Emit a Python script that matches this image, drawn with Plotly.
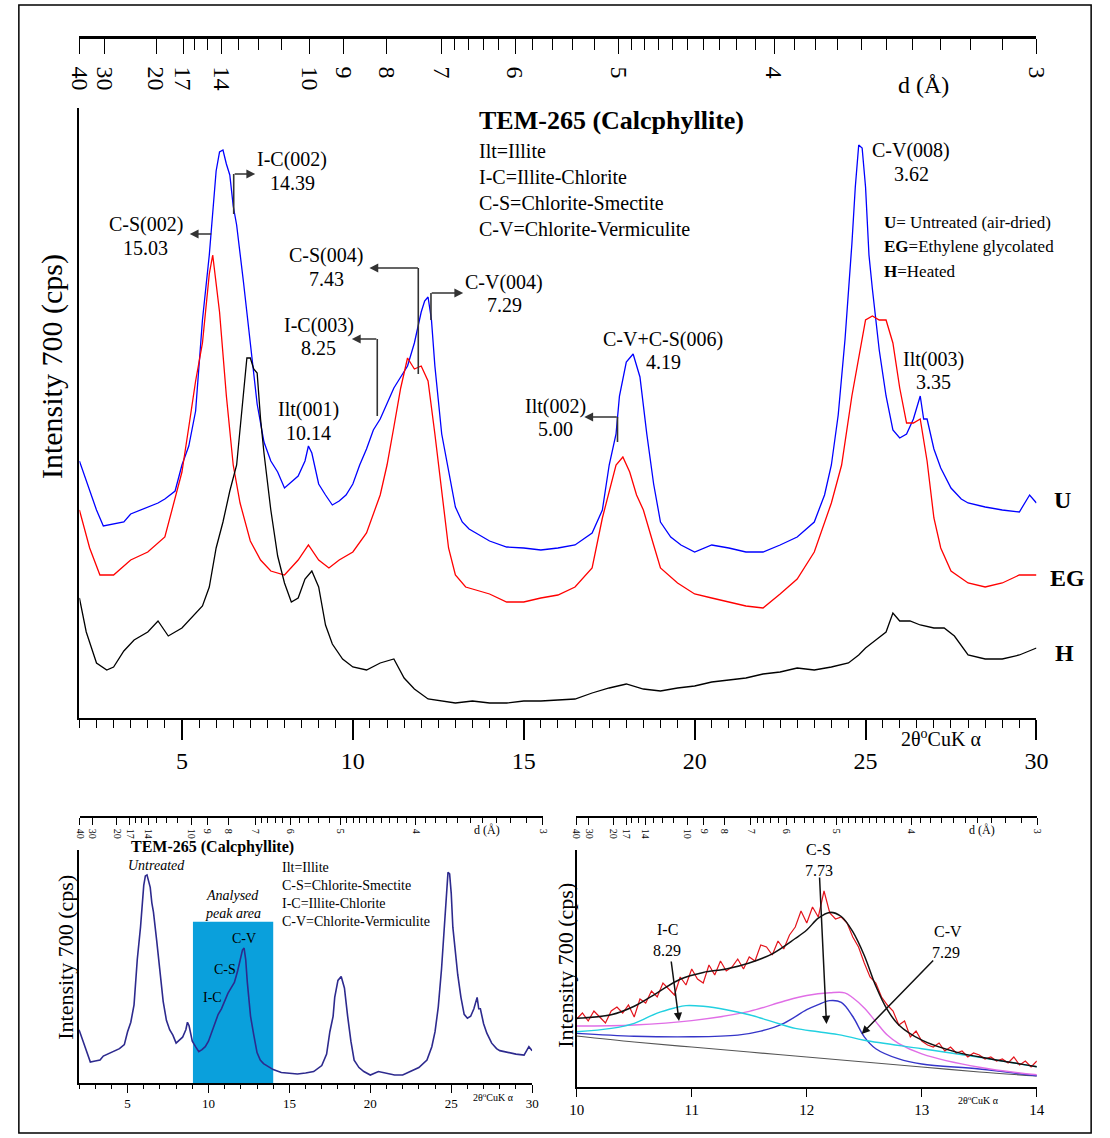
import math
import plotly.graph_objects as go

# ---------------- data ----------------
# Main panel, 2-theta (deg) vs intensity (arbitrary, stacked)
two_theta_U = [2.0, 2.2, 2.5, 2.7, 3.0, 3.3, 3.5, 4.0, 4.3, 4.5, 4.8, 5.0, 5.2, 5.4, 5.6, 5.8, 6.0, 6.1, 6.2, 6.3,
               6.4, 6.5, 6.6, 6.8, 7.0, 7.2, 7.4, 7.6, 7.8, 8.0, 8.2, 8.4, 8.6, 8.7, 8.8, 9.0, 9.2, 9.4, 9.6, 9.8,
               10.0, 10.2, 10.4, 10.6, 10.8, 11.0, 11.2, 11.4, 11.6, 11.8, 12.0, 12.1, 12.2, 12.3, 12.4, 12.6,
               12.8, 13.0, 13.2, 13.4, 13.6, 13.8, 14.0, 14.5, 15.0, 15.5, 16.0, 16.5, 17.0, 17.3, 17.5, 17.7,
               17.8, 18.0, 18.2, 18.4, 18.6, 18.8, 19.0, 19.3, 19.6, 20.0, 20.5, 21.0, 21.5, 22.0, 22.5, 23.0,
               23.5, 23.8, 24.0, 24.2, 24.4, 24.6, 24.7, 24.8, 24.9, 25.0, 25.1, 25.2, 25.4, 25.6, 25.8, 26.0,
               26.2, 26.4, 26.6, 26.7, 26.8, 27.0, 27.2, 27.5, 27.8, 28.0, 28.5, 29.0, 29.5, 29.8, 30.0]
intensity_U = [257, 238, 208, 192, 194, 196, 204, 211, 215, 219, 227, 253, 272, 307, 398, 463, 547, 566, 568, 554,
               543, 512, 493, 436, 375, 314, 276, 257, 246, 230, 236, 242, 257, 272, 265, 234, 223, 213, 217, 223,
               234, 253, 269, 288, 299, 314, 330, 341, 352, 375, 406, 417, 421, 398, 352, 284,
               246, 211, 196, 189, 185, 181, 177, 171, 170, 168, 170, 173, 185, 208, 253, 284,
               322, 356, 364, 341, 284, 234, 196, 181, 173, 166, 173, 170, 166, 166, 173, 181,
               196, 223, 253, 303, 379, 474, 531, 573, 570, 531, 463, 429, 368, 322, 288, 280,
               284, 299, 322, 299, 299, 269, 250, 230, 219, 215, 211, 208, 206, 223, 215]

two_theta_EG = [2.0, 2.3, 2.6, 3.0, 3.5, 4.0, 4.5, 5.0, 5.2, 5.4, 5.6, 5.8, 5.9, 6.0, 6.1, 6.3, 6.5, 6.7, 7.0, 7.3,
                7.6, 8.0, 8.4, 8.7, 9.0, 9.3, 9.6, 10.0, 10.4, 10.8, 11.0, 11.2, 11.4, 11.6, 11.8, 12.0, 12.2,
                12.4, 12.6, 12.8, 13.0, 13.3, 13.6, 14.0, 14.5, 15.0, 15.5, 16.0, 16.5, 17.0, 17.3, 17.5, 17.7,
                17.9, 18.1, 18.3, 18.5, 18.8, 19.0, 19.5, 20.0, 20.5, 21.0, 21.5, 22.0, 22.5, 23.0, 23.5, 24.0,
                24.3, 24.6, 24.8, 25.0, 25.2, 25.4, 25.6, 25.8, 26.0, 26.2, 26.4, 26.6, 26.8, 27.0, 27.2, 27.5,
                28.0, 28.5, 29.0, 29.5, 30.0]
intensity_EG = [208, 170, 143, 143, 158, 166, 181, 246, 291, 337, 375, 444, 463, 436, 406, 322, 253, 215, 177, 158,
                147, 143, 158, 173, 158, 150, 158, 166, 185, 223, 253, 291, 330, 360, 349, 352, 337,
                284, 227, 170, 143, 131, 128, 124, 116, 116, 120, 123, 131, 150, 200, 227, 253,
                261, 246, 223, 208, 173, 150, 135, 124, 120, 116, 112, 110, 124, 139, 166, 215,
                253, 322, 360, 398, 402, 398, 398, 375, 330, 295, 295, 299, 257, 200, 170, 147,
                135, 131, 135, 143, 143]

two_theta_H = [2.0, 2.2, 2.5, 2.8, 3.0, 3.3, 3.6, 4.0, 4.3, 4.6, 5.0, 5.3, 5.6, 5.8, 6.0, 6.2, 6.4, 6.6, 6.8, 6.9,
               7.0, 7.1, 7.2, 7.3, 7.4, 7.6, 7.8, 8.0, 8.2, 8.4, 8.6, 8.8, 9.0, 9.2, 9.4, 9.7, 10.0, 10.4, 10.8,
               11.2, 11.5, 11.8, 12.2, 12.6, 13.0, 13.5, 14.0, 14.5, 15.0, 15.5, 16.0, 16.5, 17.0, 17.5, 18.0,
               18.5, 19.0, 19.5, 20.0, 20.5, 21.0, 21.5, 22.0, 22.5, 23.0, 23.5, 24.0, 24.5, 24.8, 25.0, 25.3,
               25.6, 25.8, 26.0, 26.3, 26.6, 27.0, 27.3, 27.6, 28.0, 28.5, 29.0, 29.5, 30.0]
intensity_H = [120, 86, 55, 48, 51, 67, 78, 86, 97, 82, 90, 101, 112, 131, 170, 196, 227, 253, 322, 360,
               360, 349, 345, 299, 265, 208, 162, 135, 116, 120, 139, 147, 131, 93, 74, 59, 51, 48, 55,
               59, 40, 29, 19, 17, 15, 17, 15, 15, 17, 17, 18, 19, 25, 30, 34,
               29, 27, 30, 32, 36, 38, 40, 44, 46, 50, 48, 51, 55, 63, 70, 78,
               86, 105, 97, 97, 93, 90, 90, 82, 63, 59, 59, 63, 70]

# Top d-spacing axis labels (Angstrom)
d_major = [40, 30, 20, 17, 14, 10, 9, 8, 7, 6, 5, 4, 3]
d_minor = [16, 15, 13, 12, 11, 6.8, 6.6, 6.4, 6.2, 5.8, 5.6, 5.4, 5.2,
           4.9, 4.8, 4.7, 4.6, 4.5, 4.4, 4.3, 4.2, 4.1,
           3.9, 3.8, 3.7, 3.6, 3.5, 3.4, 3.3, 3.2, 3.1]

# Bottom-right panel: measured profile 10-14 deg (step 0.05)
scan_step = 0.05
scan_counts = [68, 74, 66, 76, 70, 64, 76, 80, 74, 82, 70, 88, 84, 96, 90, 104, 98, 92, 110, 102,
               118, 108, 104, 122, 112, 126, 116, 120, 128, 118, 130, 126, 142, 140, 132, 146, 138, 152, 160, 176,
               164, 180, 170, 196, 174, 168, 170, 164, 150, 140, 124, 110, 104, 90, 82, 76, 62, 66, 50, 56,
               46, 42, 40, 44, 36, 40, 34, 36, 30, 34, 32, 28, 30, 26, 28, 24, 30, 22, 26, 20, 26]
scan_x = [round(10 + scan_step * i, 2) for i in range(len(scan_counts))]

fit_x = [10, 10.3, 10.5, 10.7, 10.9, 11.1, 11.3, 11.5, 11.7, 11.9, 12, 12.1, 12.2, 12.3, 12.4, 12.5, 12.6,
         12.7, 12.8, 13, 13.3, 13.6, 14]
fit_y = [68.8, 72.2, 80.7, 94.2, 107.8, 114.6, 118, 124, 133.2, 148.5, 157, 168.8, 174.6, 170.5, 155.3,
         131.5, 101, 77.3, 62, 46.8, 34.9, 28.1, 20.3]
ic_x = [10, 10.3, 10.5, 10.7, 10.85, 10.95, 11.1, 11.3, 11.5, 11.7, 11.9, 12.1, 12.3, 12.5, 13, 13.5, 14]
ic_y = [55.3, 58.6, 63.7, 73.9, 79, 81.4, 80.7, 77.3, 72.2, 65.4, 58.6, 55.3, 51.9, 46.8, 38.3, 29.8, 20.3]
cs_x = [10, 10.5, 11, 11.5, 11.8, 12, 12.2, 12.33, 12.4, 12.5, 12.6, 12.7, 12.8, 13, 13.5, 14]
cs_y = [61, 62, 66.4, 75.6, 85.8, 91.5, 94.2, 94.2, 89.2, 79, 65.4, 51.9, 43.4, 33.2, 19.7, 12.2]
cv_x = [10, 10.5, 11, 11.4, 11.6, 11.8, 12, 12.1, 12.2, 12.3, 12.4, 12.5, 12.6, 12.8, 13, 13.5, 14]
cv_y = [53.6, 50.8, 50.2, 51.9, 55.9, 63.7, 77.3, 82.4, 86.4, 84.7, 70.5, 50.2, 38.3, 28.1, 23, 18, 11.2]
bg_x = [10, 10.5, 11, 11.5, 12, 12.5, 13, 13.5, 14]
bg_y = [51, 45, 40, 35, 30, 25, 20, 15, 11]

# ---------------- helpers ----------------
W, H = 1110, 1138
FONT = "Liberation Serif, Times New Roman, serif"


def X(p):
    return p / W


def Y(p):
    return 1 - p / H


LAM = 1.5406


def bragg(d):
    return 2 * math.degrees(math.asin(LAM / (2 * d)))


T40, T3 = bragg(40), bragg(3)


def d_pos(d):
    # d-scale drawn stretched over the 2-30 deg width
    return 2 + (bragg(d) - T40) * 28 / (T3 - T40)


major_vals = [d_pos(d) for d in d_major]
major_text = [str(d) for d in d_major]
minor_vals = [d_pos(d) for d in d_minor]


def d_axis(x0, x1, ypix, fsize, tlen, mlen, lw, standoff):
    return dict(domain=[X(x0), X(x1)], anchor="free", position=Y(ypix), side="bottom",
                range=[2, 30], tickmode="array", tickvals=major_vals, ticktext=major_text,
                ticks="outside", ticklen=tlen, tickwidth=1.3, tickcolor="black",
                minor=dict(tickvals=minor_vals, ticks="outside", ticklen=mlen, tickwidth=1.2,
                           tickcolor="black"),
                tickangle=90, tickfont=dict(size=fsize, family=FONT, color="black"),
                showline=True, linecolor="black", linewidth=lw, showgrid=False, zeroline=False,
                ticklabelstandoff=standoff)


fig = go.Figure()

# main panel traces
fig.add_trace(go.Scatter(x=two_theta_U, y=intensity_U, mode="lines", line=dict(color="#0000ff", width=1.3),
                         xaxis="x", yaxis="y"))
fig.add_trace(go.Scatter(x=two_theta_EG, y=intensity_EG, mode="lines", line=dict(color="#ff0000", width=1.3),
                         xaxis="x", yaxis="y"))
fig.add_trace(go.Scatter(x=two_theta_H, y=intensity_H, mode="lines", line=dict(color="#000000", width=1.3),
                         xaxis="x", yaxis="y"))

# bottom-left: untreated pattern again
fig.add_trace(go.Scatter(x=two_theta_U, y=intensity_U, mode="lines", line=dict(color="#2d2a8e", width=1.6),
                         xaxis="x3", yaxis="y3"))

# bottom-right: profile fit
fig.add_trace(go.Scatter(x=bg_x, y=bg_y, mode="lines", line=dict(color="#555555", width=1.2, shape="spline"),
                         xaxis="x5", yaxis="y5"))
fig.add_trace(go.Scatter(x=cv_x, y=cv_y, mode="lines", line=dict(color="#3535c8", width=1.4, shape="spline"),
                         xaxis="x5", yaxis="y5"))
fig.add_trace(go.Scatter(x=cs_x, y=cs_y, mode="lines", line=dict(color="#e06ee6", width=1.4, shape="spline"),
                         xaxis="x5", yaxis="y5"))
fig.add_trace(go.Scatter(x=ic_x, y=ic_y, mode="lines", line=dict(color="#22d0e0", width=1.4, shape="spline"),
                         xaxis="x5", yaxis="y5"))
fig.add_trace(go.Scatter(x=scan_x, y=scan_counts, mode="lines", line=dict(color="#e3141c", width=1.2),
                         xaxis="x5", yaxis="y5"))
fig.add_trace(go.Scatter(x=fit_x, y=fit_y, mode="lines", line=dict(color="#111111", width=1.5, shape="spline"),
                         xaxis="x5", yaxis="y5"))

# empty traces so that the three d-spacing axes are drawn
for xa, ya in (("x2", "y"), ("x4", "y3"), ("x6", "y5")):
    fig.add_trace(go.Scatter(x=[None], y=[None], mode="lines", xaxis=xa, yaxis=ya, hoverinfo="skip"))

axis_common = dict(showgrid=False, zeroline=False, showline=True, linecolor="black")

layout = dict(
    width=W, height=H, margin=dict(l=0, r=0, t=0, b=0, pad=0),
    paper_bgcolor="white", plot_bgcolor="rgba(0,0,0,0)", showlegend=False,
    font=dict(family=FONT, color="black"),
    xaxis=dict(domain=[X(68), X(1048)], anchor="y", range=[2, 30], tick0=0, dtick=5,
               ticks="outside", ticklen=20, tickwidth=1.5, tickcolor="black",
               minor=dict(dtick=0.5, ticks="outside", ticklen=8, tickwidth=1.2, tickcolor="black"),
               tickfont=dict(size=24, family=FONT), linewidth=2, **axis_common),
    yaxis=dict(domain=[Y(718), Y(108)], anchor="x", range=[0, 610], ticks="", showticklabels=False,
               linewidth=2, **axis_common),
    xaxis2=d_axis(68, 1048, 37, 24, 15, 11, 2.5, 8),
    xaxis3=dict(domain=[X(67.6), X(531.6)], anchor="y3", range=[2, 30], tick0=0, dtick=5,
                ticks="outside", ticklen=8, tickwidth=1.2, tickcolor="black",
                minor=dict(dtick=1, ticks="outside", ticklen=4, tickwidth=1, tickcolor="black"),
                tickfont=dict(size=13, family=FONT), linewidth=1.5, **axis_common),
    yaxis3=dict(domain=[Y(1083), Y(850)], anchor="x3", range=[150, 618], ticks="", showticklabels=False,
                linewidth=1.5, **axis_common),
    xaxis4=d_axis(68.4, 542.5, 817, 10, 7, 5, 1.5, 2),
    xaxis5=dict(domain=[X(577.2), X(1048.4)], anchor="y5", range=[10, 14], tick0=10, dtick=1,
                ticks="outside", ticklen=8, tickwidth=1.2, tickcolor="black",
                tickfont=dict(size=15, family=FONT), linewidth=1.5, **axis_common),
    yaxis5=dict(domain=[Y(1087), Y(850)], anchor="x5", range=[0, 237], ticks="", showticklabels=False,
                linewidth=1.5, **axis_common),
    xaxis6=d_axis(577, 1049, 817, 10, 7, 5, 1.5, 2),
)
fig.update_layout(**layout)

shapes = []
# outer frame
shapes.append(dict(type="rect", xref="paper", yref="paper", x0=X(6), x1=X(1104), y0=Y(1133), y1=Y(5),
                   line=dict(color="black", width=1.5), fillcolor="rgba(0,0,0,0)"))
# analysed peak area
shapes.append(dict(type="rect", xref="x3", yref="y3", x0=9.04, x1=14.0, y0=150, y1=474,
                   fillcolor="#0aa0dc", line=dict(width=0), layer="below"))
# vertical legs of the bent arrows (pixel positions)
legs = [(226, 214, 174), (415, 374, 268), (428, 320, 293), (373, 416, 339), (619, 442, 417)]
for lx, ly0, ly1 in legs:
    shapes.append(dict(type="line", xref="paper", yref="paper", x0=X(lx), x1=X(lx), y0=Y(ly0), y1=Y(ly1),
                       line=dict(color="#333333", width=1.6)))
fig.update_layout(shapes=shapes)

ann = []


def txt(s, x, y, size, xanchor="center", angle=0):
    ann.append(dict(text=s, x=X(x), y=Y(y), xref="paper", yref="paper", showarrow=False,
                    font=dict(size=size, family=FONT, color="black"), xanchor=xanchor, yanchor="middle",
                    textangle=angle))


def arrow(tx, ty, hx, hy, color="#333333", width=1.6):
    ann.append(dict(text="", x=X(hx), y=Y(hy), xref="paper", yref="paper", ax=tx - hx, ay=ty - hy,
                    showarrow=True, arrowhead=2, arrowsize=1.1, arrowwidth=width, arrowcolor=color))


# ---- main panel text ----
txt("<b>TEM-265 (Calcphyllite)</b>", 475, 121, 26, "left")
for i, s in enumerate(["Ilt=Illite", "I-C=Illite-Chlorite", "C-S=Chlorite-Smectite", "C-V=Chlorite-Vermiculite"]):
    txt(s, 475, 151 + 26 * i, 20, "left")
for i, s in enumerate(["<b>U</b>= Untreated (air-dried)", "<b>EG</b>=Ethylene glycolated", "<b>H</b>=Heated"]):
    txt(s, 890, 223 + 24 * i, 17, "left")

peak_labels = [
    ("I-C(002)", "14.39", 286, 160),
    ("C-S(002)", "15.03", 136, 225),
    ("C-S(004)", "7.43", 321, 256),
    ("C-V(004)", "7.29", 503, 282),
    ("I-C(003)", "8.25", 313, 325),
    ("Ilt(001)", "10.14", 303, 410),
    ("Ilt(002)", "5.00", 555, 406),
    ("C-V+C-S(006)", "4.19", 666, 339),
    ("C-V(008)", "3.62", 920, 151),
    ("Ilt(003)", "3.35", 943, 359),
]
for name, dval, cx, cy in peak_labels:
    txt(name, cx, cy, 20)
    txt(dval, cx, cy + 23, 20)

arrow(226, 174, 248, 174)
arrow(204, 234, 181, 234)
arrow(415, 268, 365, 268)
arrow(428, 293, 461, 293)
arrow(373, 339, 347, 339)
arrow(619, 417, 585, 417)

txt("<b>U</b>", 1075, 500, 24)
txt("<b>EG</b>", 1080, 578, 24)
txt("<b>H</b>", 1077, 653, 24)
txt("d (Å)", 932, 85, 24)
txt("2θ<sup>o</sup>CuK α", 950, 738, 20)
txt("Intensity 700 (cps)", 40, 367, 30, angle=-90)

# ---- bottom-left text ----
txt("<b>TEM-265 (Calcphyllite)</b>", 204, 847, 16)
txt("<i>Untreated</i>", 147, 866, 14)
txt("<i>Analysed</i>", 225, 895, 14)
txt("<i>peak area</i>", 225, 913, 14)
for i, s in enumerate(["Ilt=Illite", "C-S=Chlorite-Smectite", "I-C=Illite-Chlorite", "C-V=Chlorite-Vermiculite"]):
    txt(s, 273, 867 + 18 * i, 14, "left")
txt("C-V", 237, 938, 14)
txt("C-S", 217, 969, 14)
txt("I-C", 204, 997, 14)
txt("2θ<sup>o</sup>CuK α", 492, 1097, 10)
txt("d (Å)", 485, 830, 12)
txt("Intensity 700 (cps)", 53, 957, 22, angle=-90)

# ---- bottom-right text ----
txt("I-C", 670, 929, 16)
txt("8.29", 670, 950, 16)
txt("C-S", 825, 849, 16)
txt("7.73", 825, 870, 16)
txt("C-V", 957, 931, 16)
txt("7.29", 955, 952, 16)
arrow(674, 960, 682, 1021, "#111111", 1.5)
arrow(826, 876, 833, 1024, "#111111", 1.5)
arrow(942, 959, 869, 1034, "#111111", 1.5)
txt("2θ<sup>o</sup>CuK α", 989, 1100, 10)
txt("d (Å)", 992, 830, 12)
txt("Intensity 700 (cps)", 565, 965, 22, angle=-90)

fig.update_layout(annotations=ann)
fig.write_html("out.html", config={"displayModeBar": False},
               post_script="document.body.style.margin='0';document.body.style.overflow='hidden';")
